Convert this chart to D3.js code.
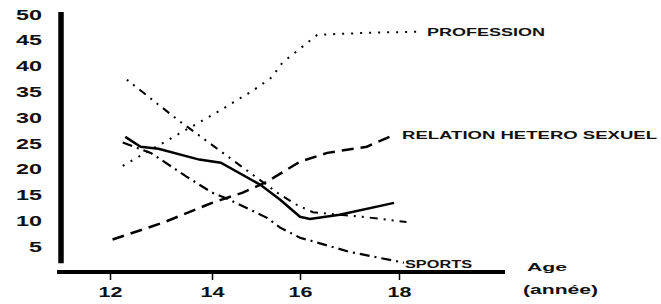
<!DOCTYPE html>
<html>
<head>
<meta charset="utf-8">
<script src="https://cdn.jsdelivr.net/npm/d3@7"></script>
<style>
  body { margin: 0; background: #fff; }
  text { font-family: "Liberation Sans", Arial, sans-serif; font-weight: bold; fill: #111; }
</style>
</head>
<body>
<svg id="chart" width="661" height="304"></svg>
<script>
// values
const yTicks = [5, 10, 15, 20, 25, 30, 35, 40, 45, 50];
const xTicks = [12, 14, 16, 18];

const professionAge = [12.25, 13.05, 14.1, 14.95, 15.35, 15.6, 16.05, 16.35, 17.4, 18.4];
const professionVal = [20.7, 25.2, 31, 35.4, 37.8, 40.7, 43.8, 46.1, 46.5, 46.7];

const relationAge = [12.05, 13.05, 14.0, 14.7, 15.25, 16.0, 16.55, 17.35, 17.9];
const relationVal = [6.4, 9.7, 13.5, 15.5, 17.6, 21.5, 23.2, 24.4, 26.7];

const solidAge = [12.3, 12.6, 12.95, 13.75, 14.2, 15.1, 15.55, 16.0, 16.2, 16.8, 17.9];
const solidVal = [26.3, 24.4, 24.0, 21.9, 21.3, 17.0, 14.1, 10.8, 10.4, 11.2, 13.5];

const otherAge = [12.33, 13.33, 14.36, 15.48, 15.93, 16.26, 17.27, 18.15];
const otherVal = [37.4, 29.6, 22.5, 15.5, 13.1, 11.7, 10.8, 9.8];

const sportsAge = [12.25, 12.8, 13.5, 14.0, 14.4, 15.25, 15.55, 16.0, 16.35, 17.0, 18.1];
const sportsVal = [25.2, 23.2, 18.6, 15.5, 14.1, 10.6, 8.7, 6.75, 5.8, 4.0, 1.9];

const svg = d3.select("#chart");

// the hand-drawn axis is not quite even, so a polylinear scale
const x = d3.scaleLinear().domain(xTicks).range([110, 212, 300, 399]);
const y = d3.scaleLinear().domain([0, 50]).range([272.5, 14.7]);

// y axis: thick bar + stretched labels
svg.append("line")
  .attr("x1", 61).attr("x2", 61)
  .attr("y1", y(50.5)).attr("y2", y(1.8))
  .attr("stroke", "#000").attr("stroke-width", 5.5);

const yAxis = svg.append("g")
  .attr("transform", "translate(42,0)")
  .call(d3.axisLeft(y).tickValues(yTicks).tickSize(0).tickPadding(0));
yAxis.select(".domain").remove();
yAxis.selectAll("text")
  .attr("font-size", 14)
  .attr("font-family", null)
  .attr("fill", null)
  .attr("textLength", d => String(d).length * 13)
  .attr("lengthAdjust", "spacingAndGlyphs");

// x axis
svg.append("line")
  .attr("x1", 57).attr("x2", 505)
  .attr("y1", 272).attr("y2", 272)
  .attr("stroke", "#000").attr("stroke-width", 4);

const xAxis = svg.append("g")
  .attr("transform", "translate(0,272)")
  .call(d3.axisBottom(x).tickValues(xTicks).tickFormat(d3.format("d")).tickSize(8).tickPadding(6));
xAxis.select(".domain").remove();
xAxis.selectAll("line").attr("stroke", "#000").attr("stroke-width", 1.5);
xAxis.selectAll("text")
  .attr("font-size", 15)
  .attr("font-family", null)
  .attr("fill", null)
  .attr("textLength", 24)
  .attr("lengthAdjust", "spacingAndGlyphs");

svg.append("text").attr("x", 527).attr("y", 271)
  .attr("font-size", 11).attr("textLength", 40).attr("lengthAdjust", "spacingAndGlyphs")
  .text("Age");
svg.append("text").attr("x", 523).attr("y", 294)
  .attr("font-size", 12).attr("textLength", 75).attr("lengthAdjust", "spacingAndGlyphs")
  .text("(année)");

// lines
const series = [
  { age: professionAge, val: professionVal, dash: "2,7", w: 2 },
  { age: relationAge, val: relationVal, dash: "12,7", w: 2.5 },
  { age: solidAge, val: solidVal, dash: null, w: 2.5 },
  { age: otherAge, val: otherVal, dash: "2,6,2,6,8,6", w: 2 },
  { age: sportsAge, val: sportsVal, dash: "10,5,2,5", w: 2.2 }
];

const line = d3.line()
  .x(d => x(d[0]))
  .y(d => y(d[1]));

svg.selectAll(".serie")
  .data(series)
  .join("path")
  .attr("class", "serie")
  .attr("d", s => line(s.age.map((a, i) => [a, s.val[i]])))
  .attr("fill", "none")
  .attr("stroke", "#000")
  .attr("stroke-width", s => s.w)
  .attr("stroke-dasharray", s => s.dash);

// line labels
const labels = [
  { t: "PROFESSION", x: 427, y: 36, len: 118 },
  { t: "RELATION HETERO SEXUEL", x: 402, y: 139, len: 255 },
  { t: "SPORTS", x: 405, y: 268, len: 67 }
];
svg.selectAll(".lab")
  .data(labels)
  .join("text")
  .attr("class", "lab")
  .attr("x", d => d.x).attr("y", d => d.y)
  .attr("font-size", 11)
  .attr("textLength", d => d.len)
  .attr("lengthAdjust", "spacingAndGlyphs")
  .text(d => d.t);
</script>
</body>
</html>
